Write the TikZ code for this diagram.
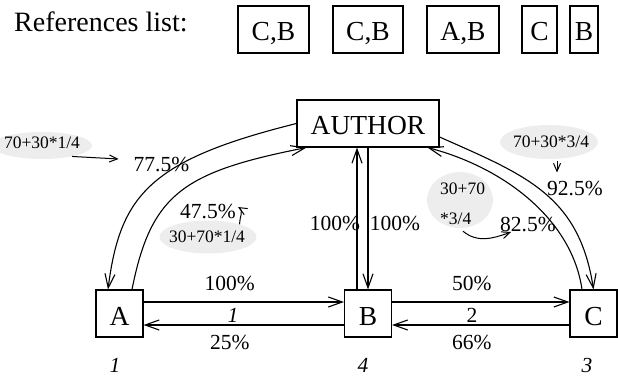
\documentclass[tikz,border=0pt]{standalone}
\usepackage{fontspec}
\setmainfont{Liberation Serif}
\usetikzlibrary{arrows.meta}
\usetikzlibrary{shapes.geometric}
\definecolor{bubble}{gray}{0.93}

\begin{document}
\begin{tikzpicture}[x=1pt, y=-1pt,
		bx/.style = {rectangle, draw, line width=1.1pt, inner sep=0, minimum height=47, text height=23pt, text depth=0pt, font=\fontsize{27.5}{27.5}\selectfont},
		pc/.style = {inner sep=0, font=\fontsize{21.5}{21.5}\selectfont},
		bub/.style = {ellipse, fill=bubble, inner sep=0},
		nt/.style = {inner sep=0, font=\fontsize{17.5}{17.5}\selectfont},
		r/.style = {-{Straight Barb[length=14pt,width=10pt]}, line width=1.1pt},
		ra/.style = {-{Straight Barb[length=8pt,width=7pt]}, line width=1pt}
		]
		\useasboundingbox (0,0) rectangle (618,379);
		
		%References list
		\node[anchor=base west, inner sep=0, font=\fontsize{28}{28}\selectfont] (title) at (14,32) {References list:};
		\node[bx, minimum width=71]	(ref1)	at	(273.5, 29.5)	{C,B};
		\node[bx, minimum width=70]	(ref2)	at	(368, 29.5)		{C,B};
		\node[bx, minimum width=72]	(ref3)	at	(463, 29.5)		{A,B};
		\node[bx, minimum width=35]	(ref4)	at	(539.5, 29.5)	{C};
		\node[bx, minimum width=28]	(ref5)	at	(584, 29.5)		{B};
		
		%Nodes
		\node[bx, minimum width=142]	(author)	at	(368, 123.5)	{AUTHOR};
		\node[bx, minimum width=47]	(a)	at	(119.5, 313.5)	{A};
		\node[bx, minimum width=47]	(b)	at	(368, 313.5)	{B};
		\node[bx, minimum width=47]	(c)	at	(593.5, 313.5)	{C};
		\node[pc]	(ia)	at	(115, 365)	{\textit{1}};
		\node[pc]	(ib)	at	(363, 365)	{\textit{4}};
		\node[pc]	(ic)	at	(587, 365)	{\textit{3}};
		
		%Bubbles
		\node[bub, minimum width=100, minimum height=27]	(e1)	at	(42, 145.5)	{};
		\node[nt]	(n1)	at	(42, 143)	{70+30*1/4};
		\node[bub, minimum width=97, minimum height=33]	(e2)	at	(208, 237)	{};
		\node[nt]	(n2)	at	(207, 237)	{30+70*1/4};
		\node[bub, minimum width=98, minimum height=34]	(e3)	at	(549, 142)	{};
		\node[nt]	(n3)	at	(551, 142)	{70+30*3/4};
		\node[bub, minimum width=66, minimum height=56]	(e4)	at	(460, 200)	{};
		\node[nt, anchor=west, align=left, font=\fontsize{17.5}{30}\selectfont]	(n4)	at	(440, 204)	{30+70\\*3/4};
		
		%Lines
		\draw[r]	(author.west)	.. controls (150,160) and (120,195) ..	([xshift=-11.5pt]a.north);
		\draw[r]	([xshift=12.5pt]a.north)	.. controls (151,194) and (183,172) ..	([xshift=10pt]author.south west);
		\draw[r]	([yshift=-13.5pt]author.east)	.. controls (525,175) and (579,195) ..	(c.north);
		\draw[r]	([xshift=-11.5pt]c.north)	.. controls (572,220) and (505,168) ..	([xshift=-12pt]author.south east);
		\draw[r]	([xshift=-11pt]b.north)	--	([xshift=-11pt]author.south);
		\draw[r]	(author.south)	--	(b.north);
		\draw[r]	([yshift=11.5pt]a.east)	--	node[pc, pos=0.43, above=11pt]	{100\%}	([yshift=11.5pt]b.west);
		\draw[r]	([yshift=-11.5pt]b.west)	--	node[pc, pos=0.57, below=10pt]	{25\%}	([yshift=-11.5pt]a.east);
		\draw[r]	([yshift=11.5pt]b.east)	--	node[pc, pos=0.45, above=11pt]	{50\%}	([yshift=11.5pt]c.west);
		\draw[r]	([yshift=-11.5pt]c.west)	--	node[pc, pos=0.55, below=10pt]	{66\%}	([yshift=-11.5pt]b.east);
		
		%Labels
		\node[pc]	(l1)	at	(233, 315)	{\textit{1}};
		\node[pc]	(l2)	at	(472, 315)	{2};
		\node[pc]	(lbl775)	at	(161.5, 165)	{77.5\%};
		\node[pc]	(lbl475)	at	(208, 212)	{47.5\%};
		\node[pc]	(lbl925)	at	(575, 189)	{92.5\%};
		\node[pc]	(lbl825)	at	(528, 224.5)	{82.5\%};
		\node[pc]	(lblba)	at	(335, 223)	{100\%};
		\node[pc]	(lblab)	at	(395, 223)	{100\%};
		
		%Notes
		\draw[ra]	(e1.-20)	--	([xshift=-15pt,yshift=6pt]lbl775.west);
		\draw[ra]	(e2.22)	to[out=90, in=-30]	([xshift=2pt,yshift=5pt]lbl475.east);
		\draw[ra]	([xshift=8pt,yshift=-2pt]e3.south)	--	([xshift=-18pt,yshift=9pt]lbl925.north);
		\draw[ra]	([xshift=3pt,yshift=-3pt]e4.south)	to[out=-40, in=200]	([xshift=11pt]lbl825.south west);
	\end{tikzpicture}
\end{document}
